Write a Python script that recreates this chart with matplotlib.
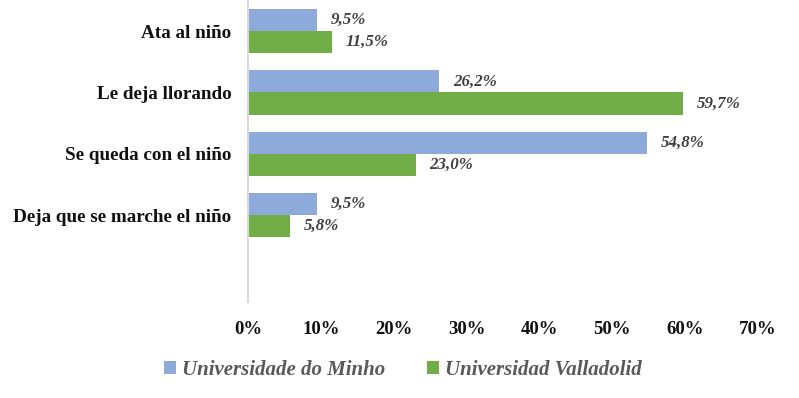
import matplotlib.pyplot as plt
import numpy as np

categories = ["Ata al niño", "Le deja llorando", "Se queda con el niño", "Deja que se marche el niño"]
minho = [9.5, 26.2, 54.8, 9.5]
valladolid = [11.5, 59.7, 23.0, 5.8]
series_names = ["Universidade do Minho", "Universidad Valladolid"]
xticks = [0, 10, 20, 30, 40, 50, 60, 70]

plt.rcParams["font.family"] = ["Liberation Serif", "DejaVu Serif"]

fig = plt.figure(figsize=(7.99, 3.98), dpi=100)
ax = fig.add_axes([248 / 799, 1 - 302 / 398, 510 / 799, 302 / 398])

y = np.arange(len(categories))
h = 0.36
blue = "#8eaadb"
green = "#70ad47"
b1 = ax.barh(y - h / 2, minho, height=h, color=blue, label=series_names[0])
b2 = ax.barh(y + h / 2, valladolid, height=h, color=green, label=series_names[1])

for bars, vals in ((b1, minho), (b2, valladolid)):
    for bar, v in zip(bars, vals):
        ax.annotate(f"{v:.1f}%".replace(".", ","),
                    (bar.get_width(), bar.get_y() + bar.get_height() / 2),
                    xytext=(10, 0), textcoords="offset points", va="center", ha="left",
                    fontsize=12.2, fontweight="bold", fontstyle="italic", color="#404040")

ax.set_xlim(0, 70)
ax.set_ylim(4.42, -0.51)
ax.set_yticks(y)
ax.set_yticklabels(categories, fontsize=13.8, fontweight="bold", color="#111111")
ax.set_xticks(xticks)
ax.set_xticklabels([f"{t}%" for t in xticks], fontsize=13.5, fontweight="bold", color="#111111")
ax.tick_params(axis="both", length=0)
ax.tick_params(axis="x", pad=14)
ax.tick_params(axis="y", pad=12)
for s in ("top", "right", "bottom"):
    ax.spines[s].set_visible(False)
ax.spines["left"].set_color("#d9d9d9")
ax.spines["left"].set_linewidth(1.5)

fig.legend(handles=[b1, b2], loc="center", bbox_to_anchor=(403 / 799, 1 - 370 / 398),
           ncol=2, frameon=False, handlelength=0.55, handleheight=0.55, handletextpad=0.3,
           columnspacing=2.0,
           prop={"family": "Liberation Serif", "size": 15, "weight": "bold", "style": "italic"},
           labelcolor="#595959")

fig.savefig("out.png", dpi=100)
